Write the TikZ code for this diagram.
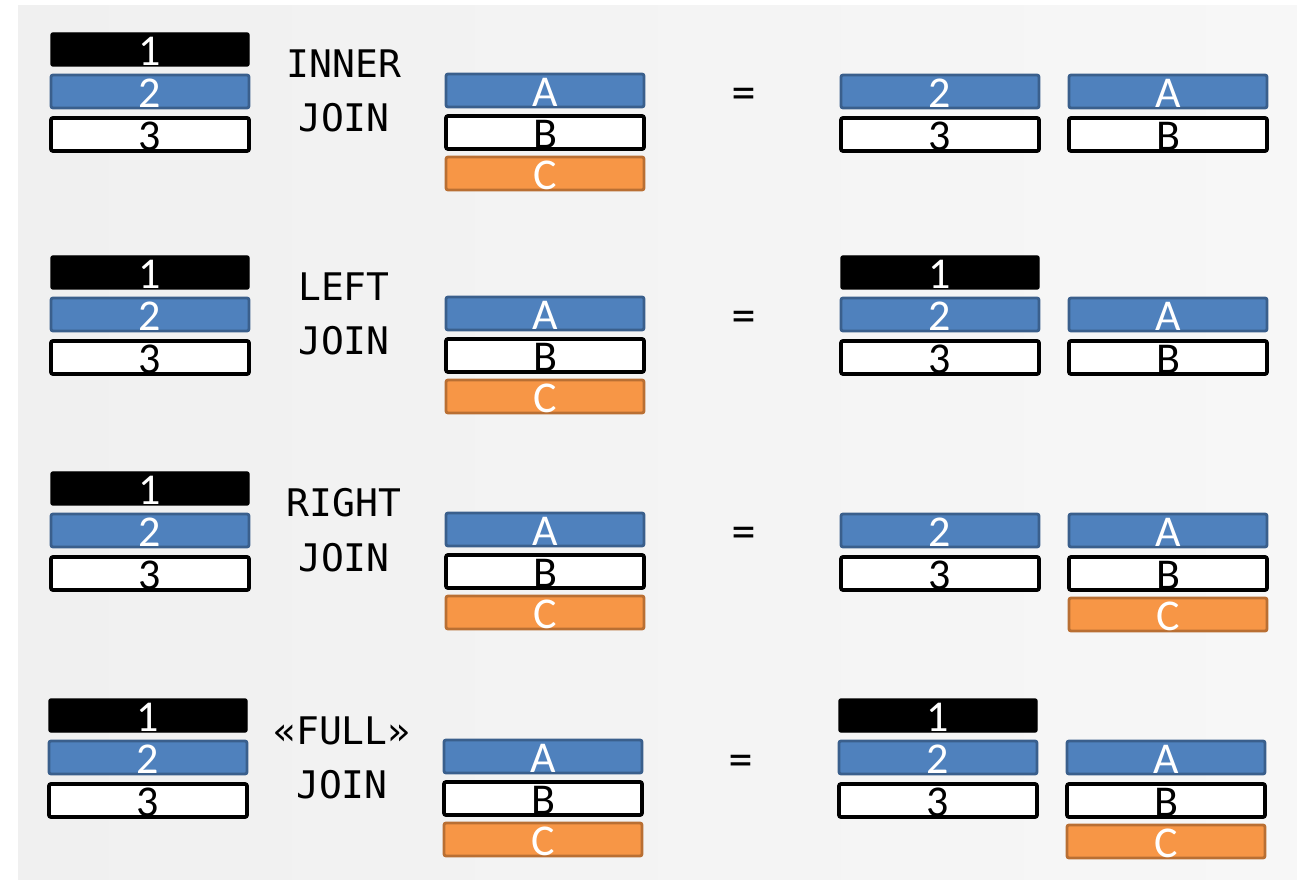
\documentclass[tikz,border=0pt]{standalone}
\usepackage{fontspec}
\setmainfont{Carlito}
\newfontfamily\labelmono{DejaVu Sans Mono}
\definecolor{tblue}{HTML}{4F81BD}
\definecolor{tblueb}{HTML}{3A5F8C}
\definecolor{torange}{HTML}{F79646}
\definecolor{toranb}{HTML}{B96F33}
\definecolor{bgl}{HTML}{F0F0F0}
\definecolor{bgr}{HTML}{F7F7F7}
\begin{document}
\begin{tikzpicture}[x=0.75pt,y=-0.75pt,
 cell/.style={rectangle, rounded corners=1.5pt, minimum width=148.5pt, minimum height=24.75pt,
   inner sep=0pt, text height=23.5pt, text depth=0pt, font=\fontsize{33}{33}\selectfont},
 c1/.style={cell, fill=black, draw=black, line width=1pt, text=white},
 c2/.style={cell, fill=tblue, draw=tblueb, line width=2.1pt, text=white},
 c3/.style={cell, fill=white, draw=black, line width=2.8pt, text=black},
 cC/.style={cell, fill=torange, draw=toranb, line width=2.1pt, text=white},
 op/.style={font=\labelmono\fontsize{28.5}{28.5}\selectfont, anchor=base, inner sep=0pt, text=black},
]
\useasboundingbox (0,0) rectangle (1297,880);
\shade[left color=bgl, right color=bgr] (18,6) rectangle (1297,880);

% Row 1: INNER JOIN
\node[c1] (r1l1) at (150,49.5) {1};
\node[c2] (r1l2) at (150,91.5) {2};
\node[c3] (r1l3) at (150,134.5) {3};
\node[op] (r1op1) at (344,78) {INNER};
\node[op] (r1op2) at (344,132) {JOIN};
\node[c2] (r1m1) at (545,90.5) {A};
\node[c3] (r1m2) at (545,132.5) {B};
\node[cC] (r1m3) at (545,173.5) {C};
\node[op] (r1eq) at (744,106) {=};
\node[c2] (r1r1) at (940,91.5) {2};
\node[c3] (r1r2) at (940,134.5) {3};
\node[c2] (r1r3) at (1168,91.5) {A};
\node[c3] (r1r4) at (1168,134.5) {B};

% Row 2: LEFT JOIN
\node[c1] (r2l1) at (150,272.5) {1};
\node[c2] (r2l2) at (150,314.5) {2};
\node[c3] (r2l3) at (150,357.5) {3};
\node[op] (r2op1) at (344,301) {LEFT};
\node[op] (r2op2) at (344,355) {JOIN};
\node[c2] (r2m1) at (545,313.5) {A};
\node[c3] (r2m2) at (545,355.5) {B};
\node[cC] (r2m3) at (545,396.5) {C};
\node[op] (r2eq) at (744,329) {=};
\node[c1] (r2r0) at (940,272.5) {1};
\node[c2] (r2r1) at (940,314.5) {2};
\node[c3] (r2r2) at (940,357.5) {3};
\node[c2] (r2r3) at (1168,314.5) {A};
\node[c3] (r2r4) at (1168,357.5) {B};

% Row 3: RIGHT JOIN
\node[c1] (r3l1) at (150,488.5) {1};
\node[c2] (r3l2) at (150,530.5) {2};
\node[c3] (r3l3) at (150,573.5) {3};
\node[op] (r3op1) at (344,517) {RIGHT};
\node[op] (r3op2) at (344,571) {JOIN};
\node[c2] (r3m1) at (545,529.5) {A};
\node[c3] (r3m2) at (545,571.5) {B};
\node[cC] (r3m3) at (545,612.5) {C};
\node[op] (r3eq) at (744,545) {=};
\node[c2] (r3r1) at (940,530.5) {2};
\node[c3] (r3r2) at (940,573.5) {3};
\node[c2] (r3r3) at (1168,530.5) {A};
\node[c3] (r3r4) at (1168,573.5) {B};
\node[cC] (r3r5) at (1168,614.5) {C};

% Row 4: FULL JOIN
\node[c1] (r4l1) at (148,715.5) {1};
\node[c2] (r4l2) at (148,757.5) {2};
\node[c3] (r4l3) at (148,800.5) {3};
\node[op] (r4op1) at (342,744) {«FULL»};
\node[op] (r4op2) at (342,798) {JOIN};
\node[c2] (r4m1) at (543,756.5) {A};
\node[c3] (r4m2) at (543,798.5) {B};
\node[cC] (r4m3) at (543,839.5) {C};
\node[op] (r4eq) at (741,772) {=};
\node[c1] (r4r0) at (938,715.5) {1};
\node[c2] (r4r1) at (938,757.5) {2};
\node[c3] (r4r2) at (938,800.5) {3};
\node[c2] (r4r3) at (1166,757.5) {A};
\node[c3] (r4r4) at (1166,800.5) {B};
\node[cC] (r4r5) at (1166,841.5) {C};
\end{tikzpicture}
\end{document}
